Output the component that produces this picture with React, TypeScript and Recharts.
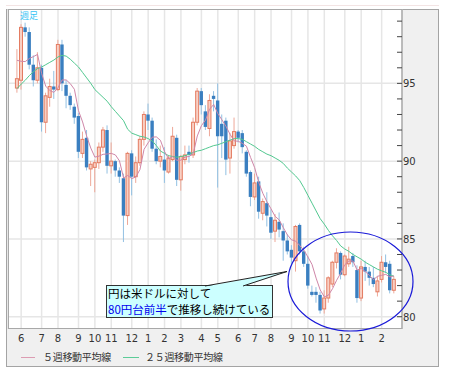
import React from 'react';
import { ComposedChart, Bar, Line, XAxis, YAxis, CartesianGrid } from 'recharts';

// weekly USD/JPY candles, week starting Monday
const weeks = [
  '2009-05-25', '2009-06-01', '2009-06-08', '2009-06-15', '2009-06-22', '2009-06-29', '2009-07-06', '2009-07-13',
  '2009-07-20', '2009-07-27', '2009-08-03', '2009-08-10', '2009-08-17', '2009-08-24', '2009-08-31', '2009-09-07',
  '2009-09-14', '2009-09-21', '2009-09-28', '2009-10-05', '2009-10-12', '2009-10-19', '2009-10-26', '2009-11-02',
  '2009-11-09', '2009-11-16', '2009-11-23', '2009-11-30', '2009-12-07', '2009-12-14', '2009-12-21', '2009-12-28',
  '2010-01-04', '2010-01-11', '2010-01-18', '2010-01-25', '2010-02-01', '2010-02-08', '2010-02-15', '2010-02-22',
  '2010-03-01', '2010-03-08', '2010-03-15', '2010-03-22', '2010-03-29', '2010-04-05', '2010-04-12', '2010-04-19',
  '2010-04-26', '2010-05-03', '2010-05-10', '2010-05-17', '2010-05-24', '2010-05-31', '2010-06-07', '2010-06-14',
  '2010-06-21', '2010-06-28', '2010-07-05', '2010-07-12', '2010-07-19', '2010-07-26', '2010-08-02', '2010-08-09',
  '2010-08-16', '2010-08-23', '2010-08-30', '2010-09-06', '2010-09-13', '2010-09-20', '2010-09-27', '2010-10-04',
  '2010-10-11', '2010-10-18', '2010-10-25', '2010-11-01', '2010-11-08', '2010-11-15', '2010-11-22', '2010-11-29',
  '2010-12-06', '2010-12-13', '2010-12-20', '2010-12-27', '2011-01-03', '2011-01-10', '2011-01-17', '2011-01-24',
  '2011-01-31', '2011-02-07', '2011-02-14', '2011-02-21', '2011-02-28',
];

const opens = [
  94.7, 95.2, 98.6, 98.3, 96.2, 95.2, 96.0, 92.5, 94.1, 94.8,
  94.6, 97.5, 94.9, 94.2, 93.5, 92.9, 90.5, 91.5, 89.5, 89.6,
  89.9, 90.9, 92.0, 89.7, 90.0, 89.4, 88.9, 86.5, 90.5, 89.0,
  89.9, 91.4, 93.0, 92.6, 90.8, 90.0, 90.1, 89.3, 90.1, 91.5,
  88.8, 90.1, 90.6, 90.4, 92.5, 94.5, 93.2, 92.1, 94.2, 93.9,
  92.4, 92.6, 90.2, 91.0, 91.9, 91.8, 90.6, 89.3, 87.7, 88.7,
  86.65, 87.3, 86.4, 85.5, 86.1, 85.5, 84.9, 84.3, 83.6, 85.9,
  84.2, 83.4, 81.6, 81.6, 81.4, 80.5, 81.2, 82.1, 83.5, 84.1,
  82.7, 83.4, 83.9, 83.0, 81.2, 83.2, 82.9, 82.5, 81.6, 82.4,
  83.5, 83.4, 81.7,
];

const highs = [
  97.2, 98.8, 98.9, 98.6, 96.8, 97.0, 96.2, 94.4, 95.3, 95.8,
  97.8, 97.8, 95.2, 94.4, 93.7, 93.1, 91.9, 92.0, 90.0, 90.1,
  91.2, 92.2, 92.3, 91.2, 90.1, 89.6, 89.2, 90.6, 90.7, 90.3,
  91.6, 93.2, 93.7, 92.8, 91.4, 91.0, 90.9, 90.4, 92.2, 91.7,
  90.4, 91.0, 91.0, 92.8, 94.7, 94.7, 93.6, 94.3, 94.5, 95.0,
  93.0, 92.8, 91.8, 92.8, 92.0, 92.0, 90.7, 89.4, 89.2, 89.0,
  87.6, 88.0, 86.9, 86.6, 86.7, 86.0, 85.3, 84.6, 85.9, 86.0,
  84.5, 83.9, 82.0, 81.9, 81.6, 81.7, 82.6, 83.6, 84.4, 84.2,
  84.0, 84.5, 84.1, 83.3, 83.6, 83.6, 83.2, 83.2, 82.6, 83.9,
  84.0, 83.6, 82.6,
];

const lows = [
  94.4, 94.6, 98.0, 95.9, 94.8, 95.0, 91.9, 91.8, 93.5, 94.0,
  94.5, 94.5, 93.4, 93.3, 92.4, 90.2, 90.2, 89.4, 88.4, 88.0,
  89.5, 90.6, 89.2, 89.2, 89.0, 88.6, 84.8, 85.9, 87.8, 88.6,
  89.7, 91.0, 92.0, 90.6, 89.8, 89.6, 88.6, 89.2, 90.0, 88.4,
  88.1, 89.8, 89.9, 90.2, 92.3, 93.0, 92.0, 91.6, 93.2, 88.3,
  90.2, 89.1, 89.2, 90.8, 91.2, 90.5, 89.0, 87.1, 87.5, 86.3,
  86.2, 85.8, 85.0, 84.8, 85.1, 83.6, 84.0, 83.3, 82.9, 84.0,
  83.2, 81.8, 81.3, 80.9, 80.2, 80.2, 80.9, 81.9, 83.1, 82.4,
  82.6, 83.2, 83.2, 80.9, 81.0, 82.3, 82.0, 81.9, 81.3, 82.2,
  82.8, 81.5, 81.5,
];

const closes = [
  95.3, 98.6, 98.3, 96.2, 95.2, 96.0, 92.5, 94.2, 94.8, 94.6,
  97.5, 95.0, 94.2, 93.6, 92.8, 90.6, 91.4, 89.6, 89.8, 89.9,
  90.9, 92.0, 89.7, 90.0, 89.4, 89.0, 86.5, 90.5, 89.0, 89.9,
  91.4, 93.0, 92.6, 90.8, 90.0, 90.3, 89.4, 90.2, 91.6, 88.8,
  90.3, 90.4, 90.4, 92.5, 94.5, 93.6, 92.2, 93.9, 94.0, 91.6,
  91.6, 90.1, 91.3, 91.9, 91.5, 90.9, 89.2, 87.7, 88.6, 86.75,
  87.4, 86.5, 85.4, 86.2, 85.6, 84.9, 84.2, 83.8, 85.8, 84.2,
  83.4, 82.0, 81.4, 81.4, 80.4, 81.2, 82.5, 83.5, 84.1, 82.7,
  83.9, 83.7, 83.5, 81.2, 83.2, 82.9, 82.5, 82.1, 82.3, 83.5,
  83.2, 81.7, 82.4,
];

const ma5 = [
  96.48, 96.42, 96.4, 96.6, 96.72, 96.86, 95.64, 94.82, 94.54, 94.42,
  94.72, 95.22, 95.22, 94.98, 94.62, 93.24, 92.52, 91.6, 90.84, 90.26,
  90.32, 90.44, 90.46, 90.5, 90.4, 90.02, 88.92, 89.08, 88.88, 88.98,
  89.46, 90.76, 91.18, 91.54, 91.56, 91.34, 90.62, 90.14, 90.3, 90.06,
  90.06, 90.26, 90.3, 90.48, 91.62, 92.28, 92.64, 93.34, 93.64, 93.06,
  92.66, 92.24, 91.72, 91.3, 91.28, 91.14, 90.96, 90.24, 89.58, 88.63,
  87.93, 87.39, 86.93, 86.45, 86.22, 85.72, 85.26, 84.94, 84.86, 84.58,
  84.28, 83.84, 83.36, 82.48, 81.72, 81.28, 81.38, 81.8, 82.34, 82.8,
  83.34, 83.58, 83.58, 83.0, 83.1, 82.9, 82.66, 82.38, 82.6, 82.66,
  82.72, 82.56, 82.62,
];

const ma25 = [
  94.66, 94.95, 95.2, 95.5, 95.75, 95.95, 96.05, 96.2, 96.35, 96.5,
  96.7, 96.8, 96.75, 96.55, 96.3, 96.05, 95.7, 95.35, 95.0, 94.6,
  94.35, 94.1, 93.85, 93.5, 93.2, 92.9, 92.6, 92.05, 91.8, 91.7,
  91.6, 91.55, 91.45, 91.3, 91.0, 90.65, 90.5, 90.35, 90.3, 90.25,
  90.3, 90.35, 90.45, 90.55, 90.65, 90.7, 90.8, 90.9, 91.0, 91.05,
  91.15, 91.25, 91.35, 91.45, 91.45, 91.4, 91.25, 91.1, 90.95, 90.75,
  90.6, 90.45, 90.35, 90.2, 90.05, 89.85, 89.55, 89.3, 89.05, 88.75,
  88.3, 87.8, 87.3, 86.8, 86.3, 85.95, 85.55, 85.2, 84.9, 84.55,
  84.35, 84.2, 84.0, 83.85, 83.7, 83.5, 83.35, 83.2, 83.05, 82.95,
  82.85, 82.7, 82.6,
];

// first week of each month gets a tick
const monthTicks = [
  '2009-06-01', '2009-07-06', '2009-08-03', '2009-09-07', '2009-10-05', '2009-11-02', '2009-12-07',
  '2010-01-04', '2010-02-01', '2010-03-01', '2010-04-05', '2010-05-03', '2010-06-07', '2010-07-05',
  '2010-08-02', '2010-09-06', '2010-10-04', '2010-11-01', '2010-12-06', '2011-01-03', '2011-02-07',
];
const monthLabels = ['6', '7', '8', '9', '10', '11', '12', '1', '2', '3', '4', '5', '6', '7', '8', '9', '10', '11', '12', '1', '2'];

const yTicks = [80, 81, 82, 83, 84, 85, 86, 87, 88, 89, 90, 91, 92, 93, 94, 95, 96, 97, 98, 99];
const yLabelled = [80, 85, 90, 95];

const data = weeks.map((w, i) => ({
  week: w,
  open: opens[i],
  high: highs[i],
  low: lows[i],
  close: closes[i],
  ma5: ma5[i],
  ma25: ma25[i],
}));

const NUM_FONT = '"DejaVu Sans", sans-serif';
const JP_FONT = '"Noto Sans CJK JP", sans-serif';

function Candle(props: any) {
  const { x, y, width, height, payload } = props;
  if (!payload || !height) return null;
  const { open, close, high, low } = payload;
  const ppu = height / (high - low);
  const cx = x + width / 2;
  const top = y + (high - Math.max(open, close)) * ppu;
  const bot = y + (high - Math.min(open, close)) * ppu;
  const up = close >= open;
  if (up) {
    return (
      <g>
        <line x1={cx} x2={cx} y1={y} y2={y + height} stroke="#eea898" />
        <rect x={cx - 1.5} y={top} width={3} height={Math.max(bot - top, 1)} fill="#f8d0c4" stroke="#e47c62" strokeWidth={1} />
      </g>
    );
  }
  return (
    <g>
      <line x1={cx} x2={cx} y1={y} y2={y + height} stroke="#92c0e2" />
      <rect x={cx - 1.7} y={top} width={3.4} height={Math.max(bot - top, 1)} fill="#3a7fc0" />
    </g>
  );
}

const RightTick = ({ x, y, payload }: any) => (
  <g>
    <line x1={x - 5} x2={x} y1={y} y2={y} stroke="#444" />
    {yLabelled.includes(payload.value) && (
      <text x={x + 1} y={y + 4} fontSize={10} fill="#333" fontFamily={NUM_FONT}>
        {payload.value}
      </text>
    )}
  </g>
);

const LeftTick = ({ x, y }: any) => (
  <line x1={x} x2={x + 5} y1={y} y2={y} stroke="#444" />
);

export default function App() {
  return (
    <div style={{ position: 'absolute', left: 0, top: 0, width: 449, height: 377, background: '#fff', overflow: 'hidden' }}>
      <div style={{ position: 'absolute', left: 6, top: 5, width: 433, height: 1, background: '#f3e4e4' }} />
      <div
        style={{
          position: 'absolute', left: 6, top: 9, width: 433, height: 358, boxSizing: 'border-box',
          border: '1px solid #a4a4a4', background: '#f0f0f0',
        }}
      />
      <div style={{ position: 'absolute', left: 0, top: 0 }}>
        <ComposedChart width={449} height={377} data={data} margin={{ top: 9, right: 0, bottom: 28, left: 8 }}>
          <CartesianGrid yAxisId="R" horizontalValues={yLabelled} stroke="#e6e6e6" strokeWidth={1.5} fill="#ffffff" />
          <XAxis
            dataKey="week"
            ticks={monthTicks}
            interval={0}
            tickFormatter={(w: string) => monthLabels[monthTicks.indexOf(w)]}
            axisLine={false}
            tickLine={false}
            tickSize={0}
            tickMargin={6}
            height={20}
            padding={{ left: 7, right: 6 }}
            tick={{ fontSize: 10, fill: '#333', fontFamily: NUM_FONT }}
          />
          <YAxis
            yAxisId="L"
            orientation="left"
            width={0}
            domain={[79.21, 99.78]}
            ticks={yTicks}
            interval={0}
            axisLine={false}
            tickLine={false}
            tickSize={0}
            tickMargin={0}
            tick={<LeftTick />}
          />
          <YAxis
            yAxisId="R"
            orientation="right"
            width={47}
            domain={[79.21, 99.78]}
            ticks={yTicks}
            interval={0}
            axisLine={{ stroke: '#8c8c8c' }}
            tickLine={false}
            tickSize={0}
            tickMargin={0}
            tick={<RightTick />}
          />
          <Bar
            yAxisId="R"
            dataKey={(d: any) => [d.low, d.high]}
            shape={<Candle />}
            isAnimationActive={false}
          />
          <Line yAxisId="L" type="linear" dataKey="ma25" stroke="#52c890" strokeWidth={1} dot={false} isAnimationActive={false} />
          <Line yAxisId="R" type="linear" dataKey="ma5" stroke="#cf86a8" strokeWidth={1} dot={false} isAnimationActive={false} />
        </ComposedChart>
      </div>
      <div
        style={{
          position: 'absolute', left: 8, top: 9, width: 394, height: 320, boxSizing: 'border-box',
          borderLeft: '1px solid #a8a8a8', borderTop: '1px solid #a8a8a8', borderBottom: '1px solid #a8a8a8',
          pointerEvents: 'none',
        }}
      />
      <div style={{ position: 'absolute', left: 20, top: 10, fontSize: 9, lineHeight: '12px', color: '#33c4f4', fontFamily: JP_FONT }}>
        週足
      </div>
      <svg width={449} height={377} style={{ position: 'absolute', left: 0, top: 0, pointerEvents: 'none' }}>
        <ellipse cx={350.5} cy={281.5} rx={62.5} ry={49.5} fill="none" stroke="#1a1ad8" strokeWidth={1.2} />
        <rect x={106.5} y={285.5} width={166} height={32} fill="#ccffff" stroke="#333" strokeWidth={1} />
        <polygon points="205,286.5 243,286.5 287,271.5" fill="#ccffff" />
        <line x1={205} y1={286} x2={287} y2={271.5} stroke="#222" strokeWidth={1} />
        <line x1={243} y1={286} x2={287} y2={271.5} stroke="#222" strokeWidth={1} />
        <text x={108} y={298} fontSize={11.5} fontFamily={JP_FONT} fill="#000">円は米ドルに対して</text>
        <text x={108} y={313.5} fontSize={11.5} fontFamily={JP_FONT} fill="#000">
          <tspan fill="#0000ee">80円台前半</tspan>
          <tspan>で推移し続けている</tspan>
        </text>
      </svg>
      <div style={{ position: 'absolute', left: 21, top: 357, width: 14, height: 1, background: '#dc9cb2' }} />
      <div style={{ position: 'absolute', left: 43, top: 350, fontSize: 10, lineHeight: '14px', color: '#333', fontFamily: JP_FONT, letterSpacing: -0.3 }}>
        ５週移動平均線
      </div>
      <div style={{ position: 'absolute', left: 123, top: 357, width: 16, height: 1, background: '#5ccc98' }} />
      <div style={{ position: 'absolute', left: 145, top: 350, fontSize: 10, lineHeight: '14px', color: '#333', fontFamily: JP_FONT, letterSpacing: -0.3 }}>
        ２５週移動平均線
      </div>
    </div>
  );
}
